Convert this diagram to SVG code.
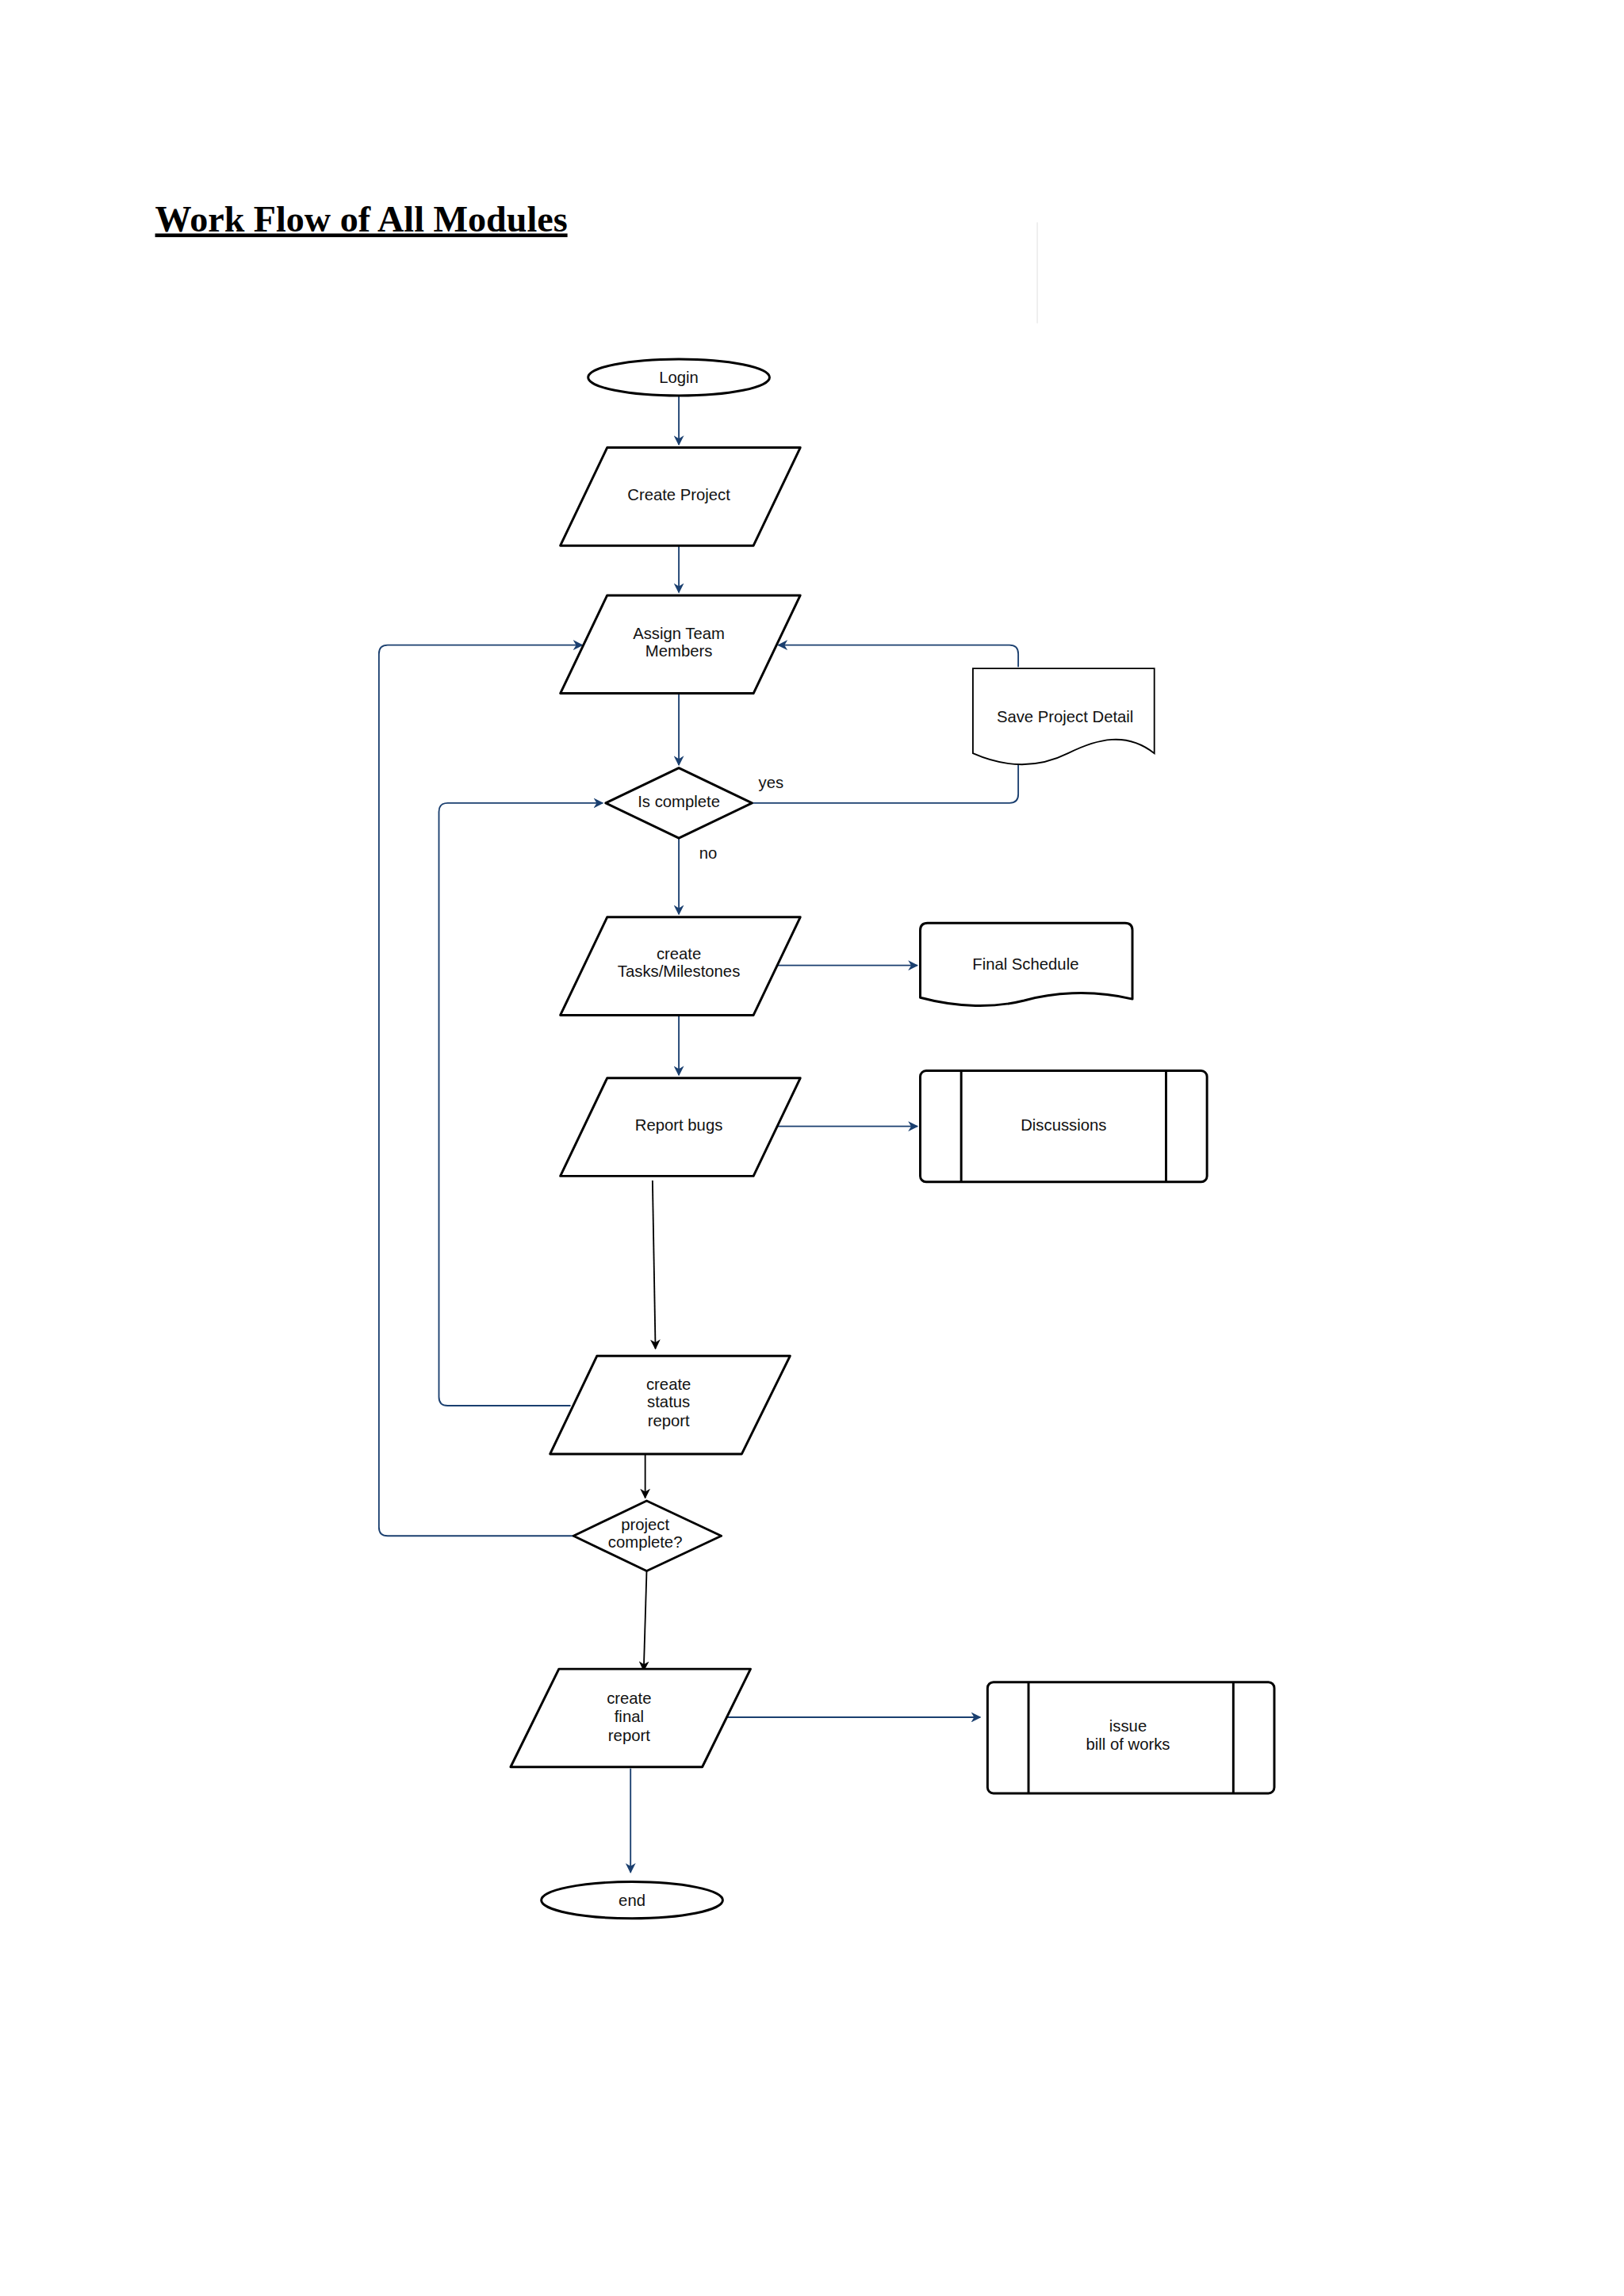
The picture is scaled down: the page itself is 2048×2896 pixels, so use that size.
<svg xmlns="http://www.w3.org/2000/svg" width="2048" height="2896" viewBox="0 0 2048 2896">
<defs>
<marker id="ab" viewBox="0 0 10 10" refX="9" refY="5" markerWidth="7" markerHeight="7" orient="auto"><path d="M0,0 L10,5 L0,10 L3,5 Z" fill="#1a3f6f"/></marker>
<marker id="ak" viewBox="0 0 10 10" refX="9" refY="5" markerWidth="7" markerHeight="7" orient="auto"><path d="M0,0 L10,5 L0,10 L3,5 Z" fill="#000"/></marker>
</defs>
<style>
.n{fill:#fff;stroke:#000;stroke-width:1.6;stroke-linejoin:round}
.t{font-family:"Liberation Sans",Arial,sans-serif;font-size:11px;fill:#111;text-anchor:middle}
.cb{fill:none;stroke:#1a3f6f;stroke-width:1}
.ck{fill:none;stroke:#000;stroke-width:1}
</style>
<rect width="2048" height="2896" fill="#fff"/>
<g transform="scale(1.845)">
<text x="106" y="158" style="font-family:'Liberation Serif','Times New Roman',serif;font-weight:bold;font-size:25px;text-decoration:underline">Work Flow of All Modules</text>
<line x1="709" y1="152" x2="709" y2="221" stroke="#eee" stroke-width="1"/>
<g id="connectors">
<path class="cb" d="M464,271 V304" marker-end="url(#ab)"/>
<path class="cb" d="M464,373 V405" marker-end="url(#ab)"/>
<path class="cb" d="M464,474 V523" marker-end="url(#ab)"/>
<path class="cb" d="M464,573 V625" marker-end="url(#ab)"/>
<path class="cb" d="M464,694 V735" marker-end="url(#ab)"/>
<path class="cb" d="M514,549 H690 Q696,549 696,543 V523"/>
<path class="cb" d="M696,456 V447 Q696,441 690,441 H532" marker-end="url(#ab)"/>
<path class="cb" d="M390,961 H306 Q300,961 300,955 V555 Q300,549 306,549 H412" marker-end="url(#ab)"/>
<path class="cb" d="M392,1050 H265 Q259,1050 259,1044 V447 Q259,441 265,441 H398" marker-end="url(#ab)"/>
<path class="cb" d="M531,660 H627" marker-end="url(#ab)"/>
<path class="cb" d="M531,770 H627" marker-end="url(#ab)"/>
<path class="ck" d="M446,807 L448,922" marker-end="url(#ak)"/>
<path class="ck" d="M441,990 V1024" marker-end="url(#ak)"/>
<path class="ck" d="M442,1074 L440,1142" marker-end="url(#ak)"/>
<path class="cb" d="M497,1174 H670" marker-end="url(#ab)"/>
<path class="cb" d="M431,1209 V1280" marker-end="url(#ab)"/>
<text x="527" y="539" class="t">yes</text>
<text x="484" y="587" class="t">no</text>
</g>
<g id="login"><ellipse class="n" cx="464" cy="258" rx="62" ry="12.5"/><text x="464" y="262" class="t">Login</text></g>
<g id="create-project"><path class="n" d="M415,306 H547 L515,373 H383 Z"/><text x="464" y="342" class="t">Create Project</text></g>
<g id="assign-team"><path class="n" d="M415,407 H547 L515,474 H383 Z"/><text x="464" y="437" class="t">Assign Team</text><text x="464" y="449" class="t">Members</text></g>
<g id="save-project"><path fill="#fff" stroke="#000" stroke-width="1" d="M665,457 H789 V515 C770,500 750,505 730,515 C712,524 690,526 665,515 Z"/><text x="728" y="494" class="t">Save Project Detail</text></g>
<g id="is-complete"><path class="n" d="M464,525 L514,549 L464,573 L414,549 Z"/><text x="464" y="552" class="t">Is complete</text></g>
<g id="create-tasks"><path class="n" d="M415,627 H547 L515,694 H383 Z"/><text x="464" y="656" class="t">create</text><text x="464" y="668" class="t">Tasks/Milestones</text></g>
<g id="final-schedule"><path class="n" d="M629,636 Q629,631 634,631 H769 Q774,631 774,636 V683 C745,676 718,679 700,684 C680,689 655,689 629,682 Z"/><text x="701" y="663" class="t">Final Schedule</text></g>
<g id="report-bugs"><path class="n" d="M415,737 H547 L515,804 H383 Z"/><text x="464" y="773" class="t">Report bugs</text></g>
<g id="discussions"><rect class="n" x="629" y="732" width="196" height="76" rx="4"/><line x1="657" y1="732" x2="657" y2="808" stroke="#000" stroke-width="1.6"/><line x1="797" y1="732" x2="797" y2="808" stroke="#000" stroke-width="1.6"/><text x="727" y="773" class="t">Discussions</text></g>
<g id="status-report"><path class="n" d="M408,927 H540 L507,994 H376 Z"/><text x="457" y="950" class="t">create</text><text x="457" y="962" class="t">status</text><text x="457" y="975" class="t">report</text></g>
<g id="project-complete"><path class="n" d="M442,1026 L493,1050 L442,1074 L392,1050 Z"/><text x="441" y="1046" class="t">project</text><text x="441" y="1058" class="t">complete?</text></g>
<g id="final-report"><path class="n" d="M382,1141 H513 L480,1208 H349 Z"/><text x="430" y="1165" class="t">create</text><text x="430" y="1177" class="t">final</text><text x="430" y="1190" class="t">report</text></g>
<g id="bill-of-works"><rect class="n" x="675" y="1150" width="196" height="76" rx="4"/><line x1="703" y1="1150" x2="703" y2="1226" stroke="#000" stroke-width="1.6"/><line x1="843" y1="1150" x2="843" y2="1226" stroke="#000" stroke-width="1.6"/><text x="771" y="1184" class="t">issue</text><text x="771" y="1196" class="t">bill of works</text></g>
<g id="end"><ellipse class="n" cx="432" cy="1299" rx="62" ry="12.5"/><text x="432" y="1303" class="t">end</text></g>
</g>
</svg>
